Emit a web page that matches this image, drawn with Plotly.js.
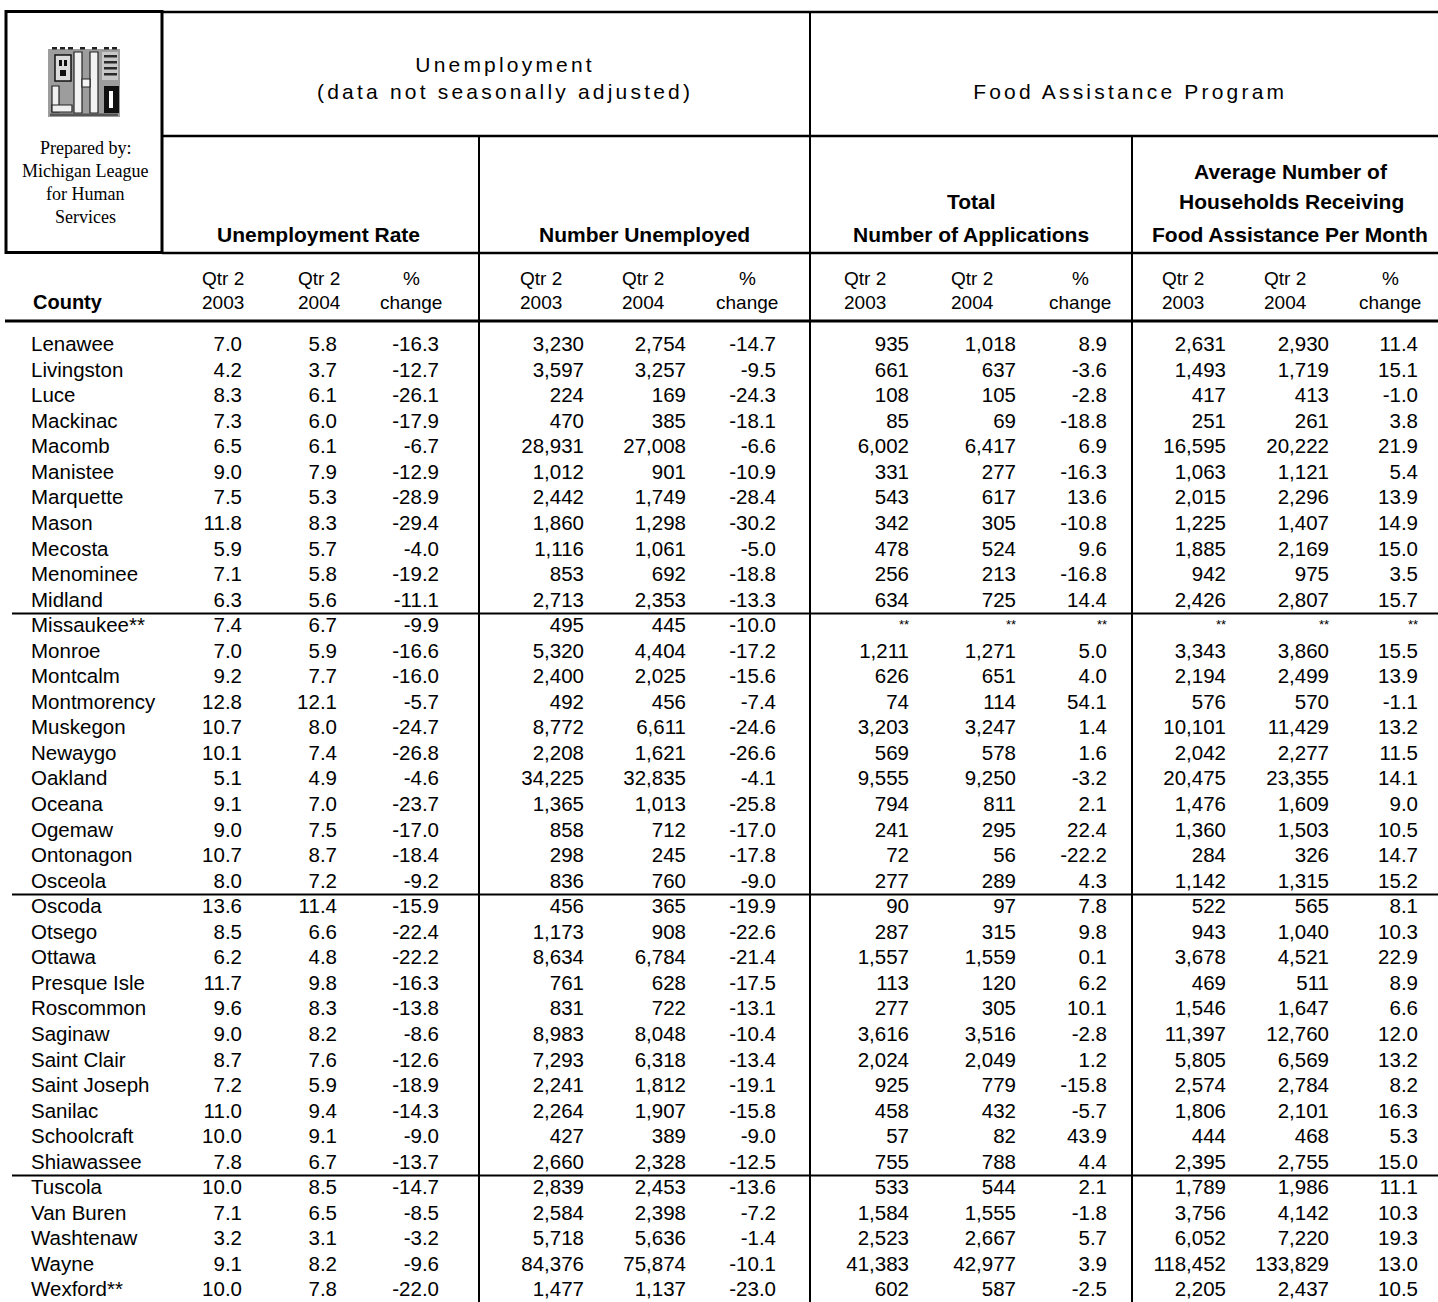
<!DOCTYPE html>
<html><head><meta charset="utf-8">
<script src="https://cdn.plot.ly/plotly-3.0.1.min.js"></script>
<style>
html,body{margin:0;padding:0;background:#fff;}
#chart{width:1438px;height:1302px;}
.annotation[data-index="0"] text,.annotation[data-index="1"] text{letter-spacing:3.2px;}
</style></head><body><div id="chart"></div>
<script>
// ---------------- DATA ----------------
const counties = ["Lenawee","Livingston","Luce","Mackinac","Macomb","Manistee","Marquette","Mason","Mecosta","Menominee","Midland",
"Missaukee**","Monroe","Montcalm","Montmorency","Muskegon","Newaygo","Oakland","Oceana","Ogemaw","Ontonagon","Osceola",
"Oscoda","Otsego","Ottawa","Presque Isle","Roscommon","Saginaw","Saint Clair","Saint Joseph","Sanilac","Schoolcraft","Shiawassee",
"Tuscola","Van Buren","Washtenaw","Wayne","Wexford**"];
const rate2003 = [7.0,4.2,8.3,7.3,6.5,9.0,7.5,11.8,5.9,7.1,6.3, 7.4,7.0,9.2,12.8,10.7,10.1,5.1,9.1,9.0,10.7,8.0, 13.6,8.5,6.2,11.7,9.6,9.0,8.7,7.2,11.0,10.0,7.8, 10.0,7.1,3.2,9.1,10.0];
const rate2004 = [5.8,3.7,6.1,6.0,6.1,7.9,5.3,8.3,5.7,5.8,5.6, 6.7,5.9,7.7,12.1,8.0,7.4,4.9,7.0,7.5,8.7,7.2, 11.4,6.6,4.8,9.8,8.3,8.2,7.6,5.9,9.4,9.1,6.7, 8.5,6.5,3.1,8.2,7.8];
const rateChange = [-16.3,-12.7,-26.1,-17.9,-6.7,-12.9,-28.9,-29.4,-4.0,-19.2,-11.1, -9.9,-16.6,-16.0,-5.7,-24.7,-26.8,-4.6,-23.7,-17.0,-18.4,-9.2, -15.9,-22.4,-22.2,-16.3,-13.8,-8.6,-12.6,-18.9,-14.3,-9.0,-13.7, -14.7,-8.5,-3.2,-9.6,-22.0];
const unemp2003 = [3230,3597,224,470,28931,1012,2442,1860,1116,853,2713, 495,5320,2400,492,8772,2208,34225,1365,858,298,836, 456,1173,8634,761,831,8983,7293,2241,2264,427,2660, 2839,2584,5718,84376,1477];
const unemp2004 = [2754,3257,169,385,27008,901,1749,1298,1061,692,2353, 445,4404,2025,456,6611,1621,32835,1013,712,245,760, 365,908,6784,628,722,8048,6318,1812,1907,389,2328, 2453,2398,5636,75874,1137];
const unempChange = [-14.7,-9.5,-24.3,-18.1,-6.6,-10.9,-28.4,-30.2,-5.0,-18.8,-13.3, -10.0,-17.2,-15.6,-7.4,-24.6,-26.6,-4.1,-25.8,-17.0,-17.8,-9.0, -19.9,-22.6,-21.4,-17.5,-13.1,-10.4,-13.4,-19.1,-15.8,-9.0,-12.5, -13.6,-7.2,-1.4,-10.1,-23.0];
const apps2003 = [935,661,108,85,6002,331,543,342,478,256,634, null,1211,626,74,3203,569,9555,794,241,72,277, 90,287,1557,113,277,3616,2024,925,458,57,755, 533,1584,2523,41383,602];
const apps2004 = [1018,637,105,69,6417,277,617,305,524,213,725, null,1271,651,114,3247,578,9250,811,295,56,289, 97,315,1559,120,305,3516,2049,779,432,82,788, 544,1555,2667,42977,587];
const appsChange = [8.9,-3.6,-2.8,-18.8,6.9,-16.3,13.6,-10.8,9.6,-16.8,14.4, null,5.0,4.0,54.1,1.4,1.6,-3.2,2.1,22.4,-22.2,4.3, 7.8,9.8,0.1,6.2,10.1,-2.8,1.2,-15.8,-5.7,43.9,4.4, 2.1,-1.8,5.7,3.9,-2.5];
const hh2003 = [2631,1493,417,251,16595,1063,2015,1225,1885,942,2426, null,3343,2194,576,10101,2042,20475,1476,1360,284,1142, 522,943,3678,469,1546,11397,5805,2574,1806,444,2395, 1789,3756,6052,118452,2205];
const hh2004 = [2930,1719,413,261,20222,1121,2296,1407,2169,975,2807, null,3860,2499,570,11429,2277,23355,1609,1503,326,1315, 565,1040,4521,511,1647,12760,6569,2784,2101,468,2755, 1986,4142,7220,133829,2437];
const hhChange = [11.4,15.1,-1.0,3.8,21.9,5.4,13.9,14.9,15.0,3.5,15.7, null,15.5,13.9,-1.1,13.2,11.5,14.1,9.0,10.5,14.7,15.2, 8.1,10.3,22.9,8.9,6.6,12.0,13.2,8.2,16.3,5.3,15.0, 11.1,10.3,19.3,13.0,10.5];
const groupEnds = [10, 21, 32];
const subLine1 = ["Qtr 2","Qtr 2","%"];
const subLine2 = ["2003","2004","change"];

// ---------------- LAYOUT GEOMETRY ----------------
const W = 1438, H = 1302, ROW0 = 346, ROW_H = 25.55;
const py = px => (px - ROW0) / ROW_H;
const FONT = "Liberation Sans, Arial, Helvetica, sans-serif";
const SERIF = "Liberation Serif, Times New Roman, serif";
const INK = "#000";
const BODY = 20.5;

const fmt1 = v => v == null ? "**" : v.toFixed(1);
const fmtN = v => v == null ? "**" : v.toLocaleString("en-US");

const columns = [
  {vals: rate2003, fmt: fmt1, right: 239, head: 223, s: 0},
  {vals: rate2004, fmt: fmt1, right: 334, head: 319, s: 1},
  {vals: rateChange, fmt: fmt1, right: 436, head: 411, s: 2},
  {vals: unemp2003, fmt: fmtN, right: 581, head: 541, s: 0},
  {vals: unemp2004, fmt: fmtN, right: 683, head: 643, s: 1},
  {vals: unempChange, fmt: fmt1, right: 773, head: 747, s: 2},
  {vals: apps2003, fmt: fmtN, right: 906, head: 865, s: 0},
  {vals: apps2004, fmt: fmtN, right: 1013, head: 972, s: 1},
  {vals: appsChange, fmt: fmt1, right: 1104, head: 1080, s: 2},
  {vals: hh2003, fmt: fmtN, right: 1223, head: 1183, s: 0},
  {vals: hh2004, fmt: fmtN, right: 1326, head: 1285, s: 1},
  {vals: hhChange, fmt: fmt1, right: 1415, head: 1390, s: 2}
];

const traces = [];
traces.push({
  type: "scatter", mode: "text", x: counties.map(() => 31), y: counties.map((_, i) => i),
  text: counties, textposition: "middle right", hoverinfo: "skip", cliponaxis: false,
  textfont: {family: FONT, size: BODY, color: INK}
});
columns.forEach(c => {
  const idx = c.vals.map((v, i) => i).filter(i => c.vals[i] != null);
  const nul = c.vals.map((v, i) => i).filter(i => c.vals[i] == null);
  traces.push({
    type: "scatter", mode: "text", x: idx.map(() => c.right + 3), y: idx,
    text: idx.map(i => c.fmt(c.vals[i])), textposition: "middle left", hoverinfo: "skip", cliponaxis: false,
    textfont: {family: FONT, size: BODY, color: INK}
  });
  if (nul.length) traces.push({
    type: "scatter", mode: "text", x: nul.map(() => c.right + 3), y: nul.map(i => i - 0.05),
    text: nul.map(() => "**"), textposition: "middle left", hoverinfo: "skip", cliponaxis: false,
    textfont: {family: FONT, size: 13, color: INK}
  });
});

const annotations = [];
function ann(text, x, ypx, size, opts) {
  annotations.push(Object.assign({
    text: text, x: x, y: py(ypx), xref: "x", yref: "y", showarrow: false,
    xanchor: "center", yanchor: "middle", align: "center",
    font: {family: FONT, size: size, color: INK}
  }, opts || {}));
}
// index 0,1: letter-spaced top titles
ann("Unemployment<br>(data not seasonally adjusted)", 505, 77.5, 21);
ann("Food Assistance Program", 1130, 91, 21);
// group titles
const bold = (t, x, y) => ann(t, x, y, 21, {font: {family: FONT, size: 21, color: INK, weight: "bold"}});
bold("Unemployment Rate", 318, 234);
bold("Number Unemployed", 644, 234);
bold("Total", 971, 201);
bold("Number of Applications", 971, 234);
bold("Average Number of", 1291, 171);
bold("Households Receiving", 1291, 201);
bold("Food Assistance Per Month", 1290, 234);
ann("County", 31, 302, 20, {xanchor: "left", font: {family: FONT, size: 20, color: INK, weight: "bold"}});
columns.forEach(c => {
  ann(subLine1[c.s], c.head, 278, 19);
  ann(subLine2[c.s], c.head, 302, 19);
});
["Prepared by:", "Michigan League", "for Human", "Services"].forEach((t, i) => {
  ann(t, 85, 148 + i * 23, 18, {font: {family: SERIF, size: 18, color: INK}});
});

// ---------------- SHAPES ----------------
const shapes = [];
const line = (x0, y0, x1, y1, w) => shapes.push({type: "line", xref: "x", yref: "y", x0, x1, y0: py(y0), y1: py(y1), line: {color: INK, width: w}});
const rect = (x0, y0, x1, y1, fill, lc, lw) => shapes.push({type: "rect", xref: "x", yref: "y", x0, x1, y0: py(y0), y1: py(y1), fillcolor: fill, line: {color: lc || fill, width: lw == null ? 0 : lw}});
// logo box
rect(6, 11.5, 162, 252.5, "rgba(0,0,0,0)", INK, 3);
line(162, 12, W, 12, 2.5);
line(162, 136, W, 136, 2.5);
line(162, 253, W, 253, 2.5);
line(5, 321, W, 321, 3);
line(479, 136, 479, H, 2);
line(810, 12, 810, H, 2);
line(1132, 136, 1132, H, 2);
groupEnds.forEach(g => shapes.push({type: "line", xref: "x", yref: "y", x0: 12, x1: W, y0: g + 0.47, y1: g + 0.47, line: {color: INK, width: 2}}));
// logo emblem
rect(48, 49, 120, 117, "#9d9d9d");
[52, 60, 68, 80, 92, 104, 112].forEach(x => rect(x, 47, x + 5, 49.5, "#222"));
rect(55, 55, 71, 81, "#dcdcdc", "#111", 1.5);
rect(59, 60, 62, 66, "#111"); rect(64, 60, 67, 66, "#111"); rect(60, 70, 66, 76, "#111");
rect(74, 52, 82, 113, "#f2f2f2", "#222", 1.2);
rect(90, 52, 98, 113, "#f2f2f2", "#222", 1.2);
rect(82, 79, 90, 87, "#f2f2f2", "#222", 1.2);
rect(52, 86, 59, 112, "#f0f0f0", "#222", 1.2);
rect(52, 105, 72, 112, "#f0f0f0", "#222", 1.2);
rect(102, 52, 118, 80, "#c8c8c8");
[55, 61, 67, 73].forEach(y => rect(104, y, 117, y + 2.5, "#2a2a2a"));
rect(104, 86, 119, 113, "#111");
rect(109, 91, 113, 108, "#ffffff");
rect(50, 113.5, 118, 116, "#555");

const layout = {
  width: W, height: H, margin: {l: 0, r: 0, t: 0, b: 0},
  paper_bgcolor: "#fff", plot_bgcolor: "#fff", showlegend: false,
  xaxis: {range: [0, W], visible: false, fixedrange: true},
  yaxis: {range: [py(H), py(0)], visible: false, fixedrange: true},
  annotations: annotations, shapes: shapes
};
Plotly.newPlot("chart", traces, layout, {staticPlot: true, displayModeBar: false});
</script></body></html>
